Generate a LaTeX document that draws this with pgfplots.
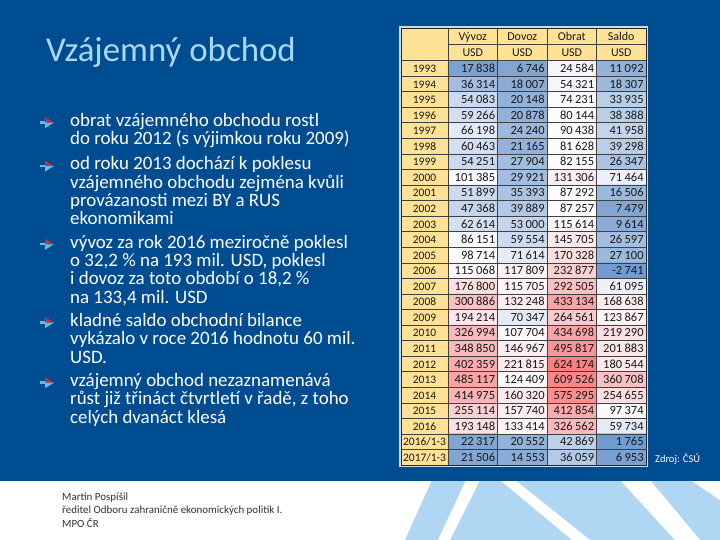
\documentclass[border=0pt]{standalone}
\usepackage{fontspec}
\setmainfont{Carlito}
\usepackage{pgfplots}
\usepackage{pgfplotstable}
\pgfplotsset{compat=1.18}

\definecolor{slide}{RGB}{0,76,145}
\definecolor{titleblue}{RGB}{170,215,245}
\definecolor{hdr}{RGB}{255,226,150}
\definecolor{logoblue}{RGB}{175,215,243}
\definecolor{arrred}{RGB}{205,40,70}
\definecolor{arrblue}{RGB}{90,190,240}

% c = column centre, r = row centre, v = value, s = shade (-1 blue .. 1 red)
\pgfplotstableread{
c r v s
0.5 0.5 17838 -0.8
1.5 0.5 6746 -0.75
2.5 0.5 24584 -0.05
3.5 0.5 11092 -0.65
0.5 1.5 36314 -0.55
1.5 1.5 18007 -0.7
2.5 1.5 54321 -0.05
3.5 1.5 18307 -0.6
0.5 2.5 54083 -0.3
1.5 2.5 20148 -0.65
2.5 2.5 74231 0
3.5 2.5 33935 -0.4
0.5 3.5 59266 -0.25
1.5 3.5 20878 -0.65
2.5 3.5 80144 0
3.5 3.5 38388 -0.4
0.5 4.5 66198 -0.15
1.5 4.5 24240 -0.6
2.5 4.5 90438 0
3.5 4.5 41958 -0.35
0.5 5.5 60463 -0.25
1.5 5.5 21165 -0.65
2.5 5.5 81628 0
3.5 5.5 39298 -0.4
0.5 6.5 54251 -0.3
1.5 6.5 27904 -0.55
2.5 6.5 82155 0
3.5 6.5 26347 -0.5
0.5 7.5 101385 0
1.5 7.5 29921 -0.55
2.5 7.5 131306 0.1
3.5 7.5 71464 -0.1
0.5 8.5 51899 -0.3
1.5 8.5 35393 -0.5
2.5 8.5 87292 0
3.5 8.5 16506 -0.6
0.5 9.5 47368 -0.35
1.5 9.5 39889 -0.45
2.5 9.5 87257 0
3.5 9.5 7479 -0.75
0.5 10.5 62614 -0.25
1.5 10.5 53000 -0.35
2.5 10.5 115614 0.05
3.5 10.5 9614 -0.7
0.5 11.5 86151 -0.03
1.5 11.5 59554 -0.3
2.5 11.5 145705 0.12
3.5 11.5 26597 -0.55
0.5 12.5 98714 0
1.5 12.5 71614 -0.15
2.5 12.5 170328 0.2
3.5 12.5 27100 -0.6
0.5 13.5 115068 0.03
1.5 13.5 117809 0.08
2.5 13.5 232877 0.3
3.5 13.5 -2741 -0.85
0.5 14.5 176800 0.2
1.5 14.5 115705 0.05
2.5 14.5 292505 0.4
3.5 14.5 61095 -0.1
0.5 15.5 300886 0.4
1.5 15.5 132248 0.1
2.5 15.5 433134 0.6
3.5 15.5 168638 0.1
0.5 16.5 194214 0.15
1.5 16.5 70347 -0.15
2.5 16.5 264561 0.35
3.5 16.5 123867 0.05
0.5 17.5 326994 0.45
1.5 17.5 107704 0.02
2.5 17.5 434698 0.6
3.5 17.5 219290 0.2
0.5 18.5 348850 0.45
1.5 18.5 146967 0.1
2.5 18.5 495817 0.7
3.5 18.5 201883 0.15
0.5 19.5 402359 0.55
1.5 19.5 221815 0.12
2.5 19.5 624174 0.85
3.5 19.5 180544 0.12
0.5 20.5 485117 0.6
1.5 20.5 124409 0.02
2.5 20.5 609526 0.8
3.5 20.5 360708 0.4
0.5 21.5 414975 0.5
1.5 21.5 160320 0.12
2.5 21.5 575295 0.75
3.5 21.5 254655 0.22
0.5 22.5 255114 0.3
1.5 22.5 157740 0.1
2.5 22.5 412854 0.55
3.5 22.5 97374 0.02
0.5 23.5 193148 0.2
1.5 23.5 133414 0.05
2.5 23.5 326562 0.45
3.5 23.5 59734 -0.15
0.5 24.5 22317 -0.75
1.5 24.5 20552 -0.65
2.5 24.5 42869 -0.38
3.5 24.5 1765 -0.85
0.5 25.5 21506 -0.75
1.5 25.5 14553 -0.7
2.5 25.5 36059 -0.45
3.5 25.5 6953 -0.8
}\cells

\pgfplotstableread{
x r lab
-0.475 0.5 1993
-0.475 1.5 1994
-0.475 2.5 1995
-0.475 3.5 1996
-0.475 4.5 1997
-0.475 5.5 1998
-0.475 6.5 1999
-0.475 7.5 2000
-0.475 8.5 2001
-0.475 9.5 2002
-0.475 10.5 2003
-0.475 11.5 2004
-0.475 12.5 2005
-0.475 13.5 2006
-0.475 14.5 2007
-0.475 15.5 2008
-0.475 16.5 2009
-0.475 17.5 2010
-0.475 18.5 2011
-0.475 19.5 2012
-0.475 20.5 2013
-0.475 21.5 2014
-0.475 22.5 2015
-0.475 23.5 2016
-0.475 24.5 2016/1-3
-0.475 25.5 2017/1-3
}\years

\newcommand{\bul}[1]{%
  \fill[arrblue] (40,#1-1.2) rectangle (47,#1+1.2);
  \fill[arrred] (45,#1) -- (45,#1+5.5) -- (54,#1) -- cycle;
  \fill[arrblue] (45,#1) -- (45,#1-5.5) -- (54,#1) -- cycle;
}

\begin{document}
\begin{tikzpicture}[x=1bp,y=1bp]
\fill[white] (0,0) rectangle (720,540);
% logo in the white strip
\fill[logoblue] (405,0) -- (432,60) -- (720,60) -- (720,0) -- cycle;
\fill[white] (438,0) -- (466,60) -- (480,60) -- (450,0) -- cycle;
\fill[white] (500,60) -- (515,60) -- (590,0) -- (572,0) -- cycle;
\fill[white] (620,60) -- (650,60) -- (700,0) -- (675,0) -- cycle;
\fill[white] (690,60) -- (720,60) -- (720,40) -- cycle;
\fill[slide] (0,59) rectangle (720,540);

\node[anchor=base west, text=titleblue, font=\fontsize{35}{40}\selectfont, inner sep=0pt] at (46,478.3) {Vzájemný obchod};

\begin{scope}[every node/.style={anchor=base west, text=white, inner sep=0pt, font=\fontsize{19}{22}\selectfont}]
\bul{417.3}
\node at (70,413.3) {obrat vzájemného obchodu rostl};
\node at (70,395.0) {do roku 2012 (s výjimkou roku 2009)};
\bul{374.0}
\node at (70,370.0) {od roku 2013 dochází k poklesu};
\node at (70,351.7) {vzájemného obchodu zejména kvůli};
\node at (70,333.3) {provázanosti mezi BY a RUS};
\node at (70,315.0) {ekonomikami};
\bul{295.7}
\node at (70,291.7) {vývoz za rok 2016 meziročně poklesl};
\node at (70,273.3) {o 32,2 \% na 193 mil. USD, poklesl};
\node at (70,255.0) {i dovoz za toto období o 18,2 \%};
\node at (70,236.7) {na 133,4 mil. USD};
\bul{217.3}
\node at (70,213.3) {kladné saldo obchodní bilance};
\node at (70,195.0) {vykázalo v roce 2016 hodnotu 60 mil.};
\node at (70,176.7) {USD.};
\bul{157.3}
\node at (70,153.3) {vzájemný obchod nezaznamenává};
\node at (70,135.0) {růst již třináct čtvrtletí v řadě, z toho};
\node at (70,116.7) {celých dvanáct klesá};
\end{scope}

\node[anchor=base west, text=white, inner sep=0pt, font=\fontsize{10.5}{12}\selectfont] at (655,77) {Zdroj: ČSÚ};

\begin{scope}[every node/.style={anchor=base west, text=black!80, inner sep=0pt, font=\fontsize{11}{13}\selectfont}]
\node at (62,39.5) {Martin Pospíšil};
\node at (62,26) {ředitel Odboru zahraničně ekonomických politik I.};
\node at (62,12.5) {MPO ČR};
\end{scope}

\draw[white!80!slide, line width=1.2bp] (400,74) rectangle (647,513);

\begin{axis}[
    at={(401bp,75bp)}, anchor=south west,
    scale only axis, width=245bp, height=437bp,
    xmin=-0.95, xmax=4, ymin=-2.09, ymax=26, y dir=reverse,
    xtick={0,1,2,3}, ytick={0,...,25},
    xticklabels={}, yticklabels={},
    major tick length=0pt,
    grid=major,
    major grid style={black!75, line width=0.5bp},
    axis line style={black!85, line width=0.7bp},
    axis on top,
    clip=false,
    colormap={bwr}{rgb255=(90,138,198) rgb255=(252,252,255) rgb255=(248,105,107)},
    point meta min=-1, point meta max=1,
]
\fill[hdr] (axis cs:-0.95,-2.09) rectangle (axis cs:4,0);
\fill[hdr] (axis cs:-0.95,0) rectangle (axis cs:0,26);
\draw[black!75, line width=0.5bp] (axis cs:0,-1.045) -- (axis cs:4,-1.045);

\addplot[matrix plot*, mesh/cols=4, point meta=explicit] table[x=c, y=r, meta=s] {\cells};

\addplot[only marks, mark=none, point meta=explicit,
    nodes near coords={\pgfmathprintnumber[fixed, precision=0, 1000 sep={\hspace{0.2em}}, assume math mode=true]{\pgfplotspointmeta}},
    every node near coord/.style={anchor=base east, xshift=22.5bp, yshift=-4.2bp, inner sep=0pt,
        text=black!90, font=\fontsize{12.5}{14}\selectfont}]
    table[x=c, y=r, meta=v] {\cells};

\addplot[only marks, mark=none, point meta=explicit symbolic,
    nodes near coords,
    every node near coord/.style={anchor=base, yshift=-4.2bp, inner sep=0pt,
        text=black!90, font=\fontsize{11.5}{13}\selectfont}]
    table[x=x, y=r, meta=lab] {\years};

\begin{scope}[every node/.style={text=black!90, inner sep=0pt, anchor=base, font=\fontsize{12}{14}\selectfont}]
\node at (axis cs:0.5,-1.3) {Vývoz};
\node at (axis cs:1.5,-1.3) {Dovoz};
\node at (axis cs:2.5,-1.3) {Obrat};
\node at (axis cs:3.5,-1.3) {Saldo};
\node at (axis cs:0.5,-0.26) {USD};
\node at (axis cs:1.5,-0.26) {USD};
\node at (axis cs:2.5,-0.26) {USD};
\node at (axis cs:3.5,-0.26) {USD};
\end{scope}
\end{axis}
\end{tikzpicture}
\end{document}
